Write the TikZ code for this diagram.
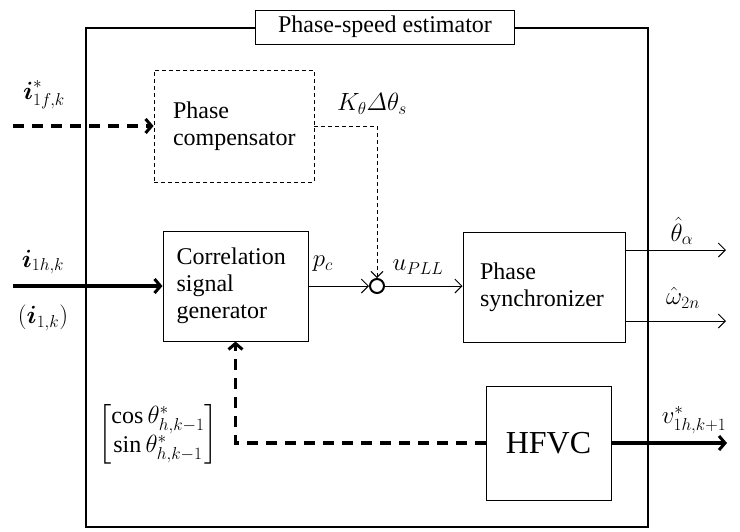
\documentclass[tikz,border=0pt]{standalone}
\usepackage{amsmath}
\usepackage{fontspec}
\setmainfont{Liberation Serif}
\usetikzlibrary{arrows.meta}
\begin{document}
\begin{tikzpicture}[x=1pt,y=-1pt,
  font=\fontsize{24}{27}\selectfont,
  blk/.style={draw, line width=1pt, inner sep=0pt, align=left},
  thinarr/.style={line width=0.9pt, -{Straight Barb[length=7pt,width=14pt,line width=0.9pt]}},
  thickarr/.style={line width=3.5pt, -{Straight Barb[length=6pt,width=14pt,line width=3pt]}},
  thickdash/.style={thickarr, dash pattern=on 11pt off 8pt},
  thindash/.style={line width=0.9pt, dash pattern=on 4pt off 3pt},
  lbl/.style={inner sep=0pt, font=\fontsize{25}{28}\selectfont},
]
\useasboundingbox (0,0) rectangle (740,531);
% outer estimator frame
\draw[line width=2.2pt] (86,28) rectangle (648,527);
\node[draw, line width=1pt, fill=white, minimum width=259pt, minimum height=34pt, inner sep=0pt] (title) at (385,27) {Phase-speed estimator};

% blocks
\node[blk, thindash, minimum width=160pt, minimum height=112pt, text width=122pt] (comp) at (234,126) {Phase\\compensator};
\node[blk, minimum width=145pt, minimum height=110pt, text width=118pt] (corr) at (235.5,286) {Correlation\\signal\\generator};
\node[blk, minimum width=162pt, minimum height=110pt, text width=128pt] (sync) at (544,287) {Phase\\synchronizer};
\node[blk, align=center, minimum width=125pt, minimum height=114pt, font=\fontsize{32}{36}\selectfont] (hfvc) at (548.5,443) {HFVC};
\node[draw, circle, line width=2pt, minimum size=14pt, inner sep=0pt] (sum) at (377,286) {};

% free ends
\coordinate (inf) at (13,126);
\coordinate (inh) at (13,286);
\coordinate (outa) at (726,250);
\coordinate (outw) at (726,321);
\coordinate (outv) at (727,443);

% connectors
\draw[thickdash] (inf) -- (comp.west);
\draw[thickarr] (inh) -- (corr.west);
\draw[thindash, -{Straight Barb[length=6pt,width=12pt,line width=0.9pt]}] (comp.east) -| (sum.north);
\draw[thinarr] (corr.east) -- (sum.west);
\draw[thinarr] (sum.east) -- (sync.west |- sum);
\draw[thinarr] (sync.east |- outa) -- (outa);
\draw[thinarr] (sync.east |- outw) -- (outw);
\draw[thickarr] (hfvc.east) -- (outv);
\draw[thickdash] (hfvc.west) -| (corr.south);

% labels
\node[lbl] (lf) at (44,95) {$\boldsymbol{i}^{*}_{1f,k}$};
\node[lbl] (lh) at (43,262) {$\boldsymbol{i}_{1h,k}$};
\node[lbl] (lh2) at (43,318) {$(\boldsymbol{i}_{1,k})$};
\node[lbl] (lk) at (372,104) {$K_{\theta}\varDelta\theta_{s}$};
\node[lbl] (lp) at (323,264) {$p_{c}$};
\node[lbl] (lu) at (418,267) {$u_{PLL}$};
\node[lbl] (lt) at (682,231) {$\hat{\theta}_{\alpha}$};
\node[lbl] (lw) at (683,298) {$\hat{\omega}_{2n}$};
\node[lbl] (lv) at (694,420) {$v^{*}_{1h,k+1}$};
\node[lbl, font=\fontsize{24}{27}\selectfont] (lm) at (158,434) {$\begin{bmatrix}\cos\theta^{*}_{h,k-1}\\ \sin\theta^{*}_{h,k-1}\end{bmatrix}$};
\end{tikzpicture}
\end{document}
